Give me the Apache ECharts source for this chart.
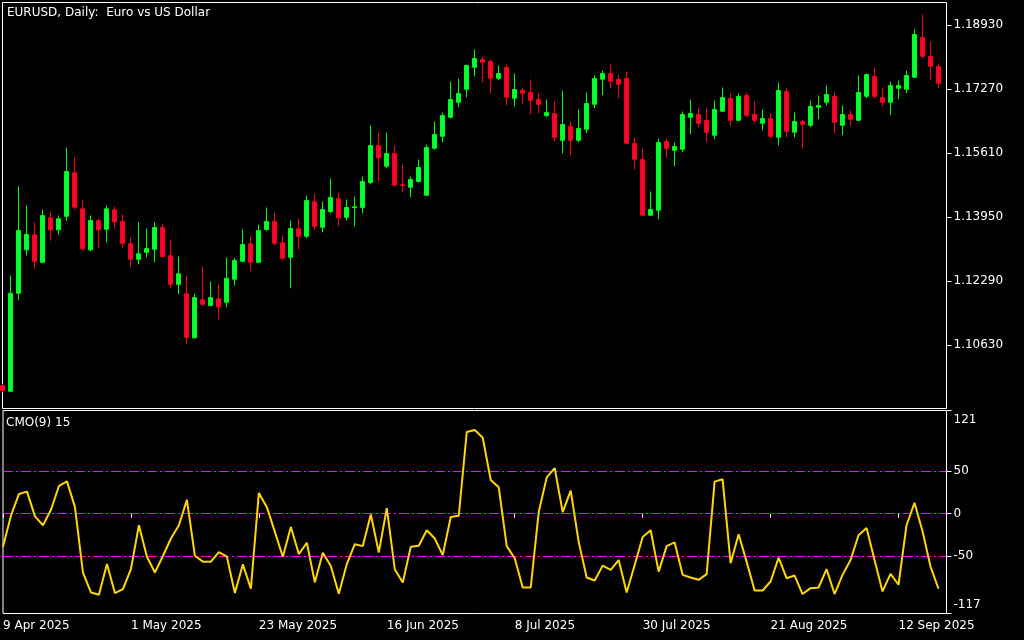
<!DOCTYPE html>
<html><head><meta charset="utf-8">
<script src="https://cdn.jsdelivr.net/npm/echarts@6/dist/echarts.min.js"></script>
<style>html,body{margin:0;padding:0;background:#000;}#c{width:1024px;height:640px;}</style>
</head><body><div id="c"></div>
<script>
// ---- data ----
const startDate = '2025-04-09';
const barCount = 118;
const xTickLabels = ['9 Apr 2025','1 May 2025','23 May 2025','16 Jun 2025','8 Jul 2025','30 Jul 2025','21 Aug 2025','12 Sep 2025'];
const priceTicks = [1.10630, 1.12290, 1.13950, 1.15610, 1.17270, 1.18930];
const cmoTicks = [121, 50, 0, -50, -117];
const cmoLevels = [50, 0, -50];

const open = [1.09575,1.09427,1.1197,1.13095,1.13484,1.12773,1.13925,1.13613,1.13966,1.15092,
1.14158,1.13095,1.13855,1.13629,1.14132,1.13829,1.13250,1.12851,1.13032,1.13110,
1.13673,1.12939,1.12202,1.11953,1.10812,1.11798,1.11650,1.11824,1.11736,1.12332,
1.12799,1.13250,1.12773,1.13621,1.13829,1.13276,1.12903,1.13639,1.13448,1.14340,
1.13681,1.14088,1.14425,1.13940,1.14192,1.14192,1.14840,1.15800,1.15263,1.15592,
1.14781,1.14719,1.14866,1.14511,1.15730,1.16041,1.16534,1.16923,1.17260,1.17831,
1.18031,1.17979,1.17546,1.17823,1.17027,1.17234,1.17175,1.16993,1.16578,1.16630,
1.15937,1.16293,1.15937,1.16223,1.16871,1.17520,1.17668,1.17512,1.17538,1.15852,
1.15437,1.13992,1.14122,1.15904,1.15678,1.15704,1.16534,1.16604,1.16448,1.16067,
1.16690,1.17019,1.16456,1.17097,1.16604,1.16378,1.16500,1.16015,1.17201,1.16145,
1.16422,1.16327,1.16793,1.16923,1.17071,1.16327,1.16604,1.16456,1.17079,1.17590,
1.17045,1.16923,1.17286,1.17260,1.17572,1.18601,1.18108,1.17849];
const close = [1.09445,1.11969,1.13595,1.13492,1.12799,1.13984,1.13613,1.13899,1.15126,1.14200,
1.13121,1.13855,1.13613,1.14158,1.13821,1.13266,1.12851,1.12991,1.13128,1.13673,
1.12921,1.12202,1.12472,1.10828,1.11857,1.11684,1.11857,1.11616,1.12358,1.12817,
1.13232,1.12773,1.13595,1.13829,1.13266,1.12877,1.13647,1.13448,1.14373,1.13707,
1.14140,1.14451,1.13925,1.14192,1.14210,1.14866,1.15800,1.15481,1.15592,1.14770,
1.14763,1.14918,1.15229,1.15748,1.16085,1.16578,1.16993,1.17149,1.17875,1.18057,
1.17961,1.17546,1.17668,1.17053,1.17253,1.17157,1.16975,1.16871,1.16656,1.16015,
1.16345,1.15937,1.16241,1.16889,1.17538,1.17668,1.17468,1.17390,1.15860,1.15445,
1.13992,1.14140,1.15878,1.15730,1.15774,1.16604,1.16630,1.16378,1.16145,1.16734,
1.17045,1.16456,1.17071,1.16586,1.16456,1.16500,1.16041,1.17227,1.16171,1.16422,
1.16352,1.16812,1.16838,1.17123,1.16404,1.16604,1.16482,1.17175,1.17642,1.17079,
1.16923,1.17356,1.17356,1.17616,1.18679,1.18116,1.17857,1.17416];
const high = [1.0962,1.12428,1.14744,1.14244,1.13811,1.14140,1.14088,1.13984,1.15748,1.15489,
1.14392,1.13984,1.13914,1.14244,1.14218,1.14018,1.13414,1.13811,1.13647,1.13811,
1.13769,1.13362,1.12921,1.12428,1.11953,1.12662,1.12272,1.12195,1.12895,1.12877,
1.13621,1.13440,1.13751,1.14192,1.14062,1.13466,1.13855,1.13907,1.14503,1.14555,
1.14347,1.14944,1.14581,1.14399,1.14477,1.14996,1.16319,1.16137,1.16137,1.15800,
1.15307,1.14996,1.15437,1.15826,1.16422,1.16656,1.17460,1.17538,1.17901,1.18290,
1.18108,1.18031,1.17875,1.17901,1.17668,1.17304,1.17512,1.17149,1.16993,1.16941,
1.17227,1.16422,1.16734,1.17175,1.17616,1.17745,1.17901,1.17616,1.17719,1.16007,
1.15722,1.14607,1.15982,1.15982,1.15878,1.16682,1.16993,1.16786,1.16760,1.16967,
1.17304,1.17149,1.17149,1.17175,1.16941,1.16734,1.16630,1.17434,1.17304,1.16656,
1.16474,1.16967,1.17097,1.17356,1.17175,1.16838,1.16708,1.17616,1.17668,1.17823,
1.17304,1.17460,1.17486,1.17745,1.18809,1.19198,1.18498,1.17927];
const low = [1.0940,1.09419,1.11798,1.12947,1.12617,1.12747,1.13336,1.13492,1.13837,1.14140,
1.13058,1.13058,1.13136,1.13292,1.13673,1.13154,1.12643,1.12721,1.12903,1.12773,
1.12903,1.12099,1.11953,1.10656,1.10800,1.11642,1.11632,1.11287,1.11606,1.12169,
1.12773,1.12540,1.12747,1.13577,1.13206,1.12825,1.12099,1.13103,1.13396,1.13621,
1.13551,1.14044,1.13707,1.13855,1.13707,1.14044,1.14796,1.14866,1.15211,1.14744,
1.14589,1.14459,1.14840,1.14500,1.15696,1.15886,1.16500,1.16793,1.17053,1.17597,
1.17442,1.17157,1.17494,1.16845,1.16819,1.16871,1.16612,1.16638,1.16534,1.15911,
1.15600,1.15548,1.15886,1.16119,1.16767,1.17105,1.17286,1.17027,1.15834,1.15185,
1.13980,1.13980,1.13888,1.15497,1.15263,1.15626,1.16093,1.16275,1.15886,1.15963,
1.16664,1.16301,1.16430,1.16534,1.16378,1.16197,1.15989,1.15808,1.16015,1.16015,
1.15730,1.16275,1.16482,1.16838,1.16119,1.16067,1.16301,1.16430,1.17027,1.17027,
1.16819,1.16586,1.17001,1.17157,1.17560,1.18064,1.17494,1.17286];
const cmo = [-38.8,-2,23.2,25.9,-3.1,-13.5,4.6,32.5,37.9,7.7,
-69,-92.3,-95,-59,-93,-88.4,-65,-13.5,-50.4,-69,
-49.6,-29.1,-13.5,16.2,-49.3,-56.2,-56.2,-45,-50.4,-93,
-59.4,-88,24.4,7.7,-21.3,-50.4,-15.5,-47.3,-34.1,-80.3,
-45.7,-61.3,-93.8,-59,-35.7,-38,-0.8,-45.4,6.6,-65,
-80.7,-38.8,-37.6,-19.4,-29.1,-48.5,-3.9,-2.4,95.7,98.2,
89.1,39.5,31,-38,-52.3,-86.5,-86.5,1.9,42.6,53.4,
1.9,27.1,-33,-74.8,-78.3,-60.9,-65.9,-54.3,-92.3,-60.1,
-27.2,-19.4,-67.9,-38,-33.7,-71.7,-74.8,-77.5,-70.9,37.6,
40.3,-58.1,-24,-56.2,-90,-90,-79.5,-51.6,-75.6,-72.5,
-94.2,-87.3,-86.5,-65,-94.2,-71.7,-54.3,-25.2,-16.7,-54.3,
-91.1,-70.5,-83.3,-13.5,12.8,-20.5,-62,-88];

// ---- build categories (trading weekdays) ----
const MONTHS = ['Jan','Feb','Mar','Apr','May','Jun','Jul','Aug','Sep','Oct','Nov','Dec'];
const dates = [];
{
  const d = new Date(startDate + 'T00:00:00Z');
  while (dates.length < barCount) {
    const wd = d.getUTCDay();
    if (wd !== 0 && wd !== 6) dates.push(d.getUTCDate() + ' ' + MONTHS[d.getUTCMonth()] + ' ' + d.getUTCFullYear());
    d.setUTCDate(d.getUTCDate() + 1);
  }
}
const categories = dates.concat(['']); // one empty slot of right margin

const ohlc = open.map((o, i) => [o, close[i], low[i], high[i]]);

const FONT = 'DejaVu Sans';
const WHITE = '#ffffff';
const chart = echarts.init(document.getElementById('c'), null, {renderer: 'canvas'});
chart.setOption({
  backgroundColor: '#000000',
  animation: false,
  title: [
    {text: 'EURUSD, Daily:  Euro vs US Dollar', left: 7, top: 7, padding: 0,
     textStyle: {color: WHITE, fontFamily: FONT, fontSize: 12, fontWeight: 'normal'}},
    {text: 'CMO(9) 15', left: 6, top: 417, padding: 0,
     textStyle: {color: WHITE, fontFamily: FONT, fontSize: 12, fontWeight: 'normal'}}
  ],
  grid: [
    {left: 2.5, width: 944, top: 2.5, height: 406, show: true, borderColor: WHITE, borderWidth: 1, backgroundColor: 'transparent'},
    {left: 2.5, width: 944, top: 410.5, height: 203, show: true, borderColor: WHITE, borderWidth: 1, backgroundColor: 'transparent'}
  ],
  xAxis: [
    {type: 'category', gridIndex: 0, data: categories, boundaryGap: false, show: false},
    {type: 'category', gridIndex: 1, data: categories, boundaryGap: false,
     axisLine: {show: false},
     axisTick: {show: true, interval: 15, length: 4, lineStyle: {color: WHITE}},
     axisLabel: {show: true, interval: 15, align: 'left', margin: 6, color: WHITE, fontFamily: FONT, fontSize: 12,
       formatter: v => (xTickLabels.indexOf(v) >= 0 ? v : '')},
     splitLine: {show: false}}
  ],
  yAxis: [
    {type: 'value', gridIndex: 0, position: 'right', min: 1.0898, max: 1.1951, scale: true,
     axisLine: {show: false},
     axisTick: {show: true, length: 5, customValues: priceTicks, lineStyle: {color: WHITE}},
     axisLabel: {show: true, margin: 7, customValues: priceTicks, color: WHITE, fontFamily: FONT, fontSize: 12,
       formatter: v => Number(v).toFixed(5)},
     splitLine: {show: false}},
    {type: 'value', gridIndex: 1, position: 'right', min: -117, max: 121,
     axisLine: {show: false},
     axisTick: {show: true, length: 5, customValues: cmoTicks, lineStyle: {color: WHITE}},
     axisLabel: {show: true, margin: 7, customValues: cmoTicks, color: WHITE, fontFamily: FONT, fontSize: 12,
       formatter: v => (v === cmoTicks[0] ? '{t|' + v + '}' : (v === cmoTicks[cmoTicks.length - 1] ? '{b|' + v + '}' : String(v))),
       rich: {
         t: {padding: [18, 0, 0, 0], color: WHITE, fontFamily: FONT, fontSize: 12},
         b: {padding: [0, 0, 18, 0], color: WHITE, fontFamily: FONT, fontSize: 12}
       }},
     splitLine: {show: false}},
    {type: 'value', gridIndex: 1, position: 'left', min: -117, max: 121,
     axisLine: {show: false},
     axisTick: {show: false, customValues: cmoLevels},
     axisLabel: {show: false, customValues: cmoLevels},
     splitLine: {show: true, lineStyle: {color: '#ff00ff', width: 1, type: [10, 3, 2, 3]}}}
  ],
  series: [
    {type: 'candlestick', xAxisIndex: 0, yAxisIndex: 0, data: ohlc, barWidth: 4, clip: true,
     itemStyle: {color: '#00ff40', color0: '#ff0040', borderColor: '#00ff00', borderColor0: '#ff0000', borderWidth: 1}},
    {type: 'line', xAxisIndex: 1, yAxisIndex: 1, data: cmo, showSymbol: false, symbol: 'none', clip: true, z: 3,
     lineStyle: {color: '#ffd700', width: 2}}
  ]
});
</script></body></html>
